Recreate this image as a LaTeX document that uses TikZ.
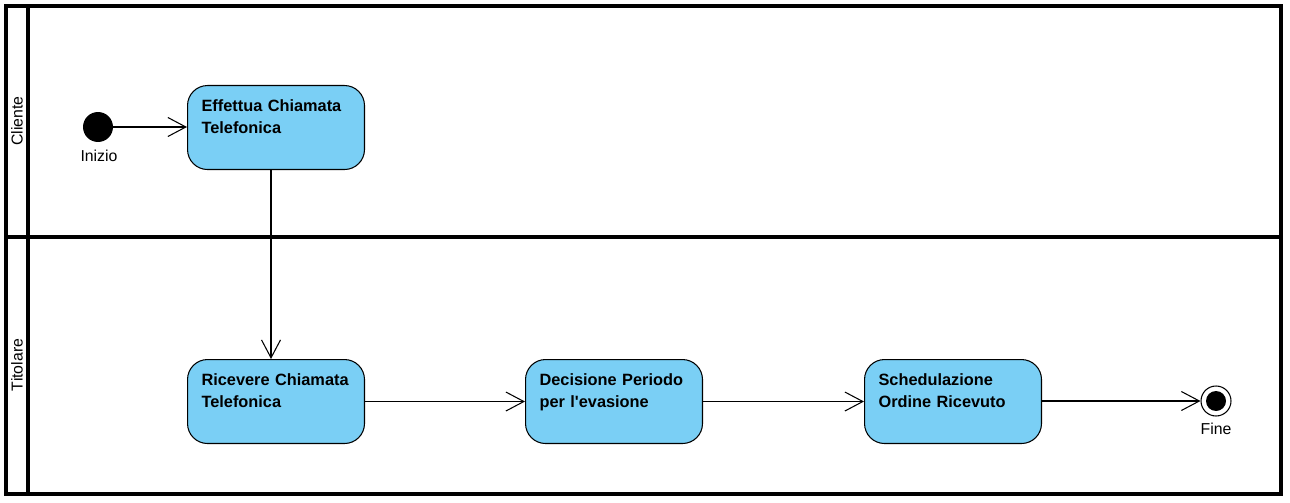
\documentclass[tikz,border=0pt]{standalone}
\usepackage{fontspec}
\setmainfont{Liberation Sans}
\usetikzlibrary{arrows.meta}

\definecolor{actblue}{RGB}{122,207,245}

\tikzset{
  act/.style={draw, line width=0.6pt, rounded corners=0.4cm, fill=actblue,
    anchor=north west, align=left, text width=2.98cm,
    inner xsep=0.28cm, inner ysep=0pt,
    text height=0.52cm, text depth=1.16cm,
    font=\bfseries\fontsize{9.3}{12.5}\selectfont},
  flow/.style={-{Straight Barb[length=0.36cm,width=0.38cm]}, line width=0.6pt},
  lane/.style={line width=2.2pt},
  lbl/.style={font=\fontsize{9}{11}\selectfont, inner sep=0pt},
}

\begin{document}
\begin{tikzpicture}[x=0.02cm, y=0.02cm]
      \useasboundingbox (0,0) rectangle (1290,-503);

      % Lanes
      \draw[lane] (6,-6) rectangle (1281,-494);
      \draw[lane] (28,-6) -- (28,-494);
      \draw[lane] (6,-237) -- (1281,-237);
      \node[lbl, rotate=90] (cliente) at (17,-121) {Cliente};
      \node[lbl, rotate=90] (titolare) at (17,-365) {Titolare};

      % Start and end
      \node[circle, fill=black, minimum size=0.6cm, inner sep=0pt] (inizio) at (98,-127) {};
      \node[lbl] (iniziolbl) at (99,-156) {Inizio};
      \node[circle, draw, line width=0.6pt, fill=white, minimum size=0.6cm, inner sep=0pt,
        path picture={\fill[black] (path picture bounding box.center) circle (0.2cm);}]
        (fine) at (1216,-401) {};
      \node[lbl] (finelbl) at (1216,-429) {Fine};

      % Boxes
      \node[act] (effettua) at (187,-85) {Effettua Chiamata\\Telefonica};
      \node[act] (ricevere) at (187,-359) {Ricevere Chiamata\\Telefonica};
      \node[act] (decisione) at (525,-359) {Decisione Periodo\\per l\textquotesingle evasione};
      \node[act] (schedul) at (864,-359) {Schedulazione\\Ordine Ricevuto};

      % Arcs
      \draw[flow] (inizio) -- (effettua.west |- inizio);
      \draw[flow] ([xshift=-0.1cm]effettua.south) -- ([xshift=-0.1cm]ricevere.north);
      \draw[flow] (ricevere.east) -- (decisione.west);
      \draw[flow] (decisione.east) -- (schedul.west);
      \draw[flow] (schedul.east |- fine) -- (fine);
    \end{tikzpicture}
\end{document}
